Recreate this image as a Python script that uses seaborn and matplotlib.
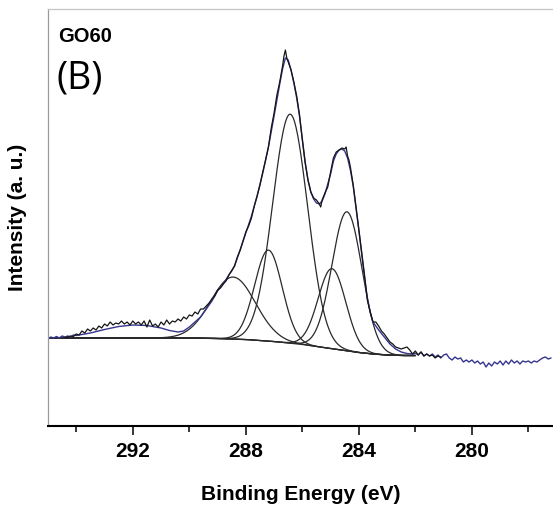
import numpy as np
import pandas as pd
import matplotlib
matplotlib.use("Agg")
import matplotlib.pyplot as plt
import seaborn as sns

# ---------------- data ----------------
# raw C1s spectrum (black), binding energy (eV) and intensity (a.u.)
raw_energy = [294.4, 294.3, 294.2, 294.1, 294.0, 293.9, 293.8, 293.7, 293.6, 293.5,
              293.4, 293.3, 293.2, 293.1, 293.0, 292.9, 292.8, 292.7, 292.6, 292.5,
              292.4, 292.3, 292.2, 292.1, 292.0, 291.9, 291.8, 291.7, 291.6, 291.5,
              291.4, 291.3, 291.2, 291.1, 291.0, 290.9, 290.8, 290.7, 290.6, 290.5,
              290.4, 290.3, 290.2, 290.1, 290.0, 289.9, 289.8, 289.7, 289.6, 289.5,
              289.4, 289.3, 289.2, 289.1, 289.0, 288.9, 288.8, 288.7, 288.6, 288.5,
              288.4, 288.3, 288.2, 288.1, 288.0, 287.9, 287.8, 287.7, 287.6, 287.5,
              287.4, 287.3, 287.2, 287.1, 287.0, 286.9, 286.8, 286.7, 286.65, 286.6,
              286.55, 286.5, 286.4, 286.3, 286.2, 286.1, 286.0, 285.9, 285.8, 285.7,
              285.6, 285.5, 285.4, 285.35, 285.3, 285.2, 285.1, 285.0, 284.9, 284.8,
              284.7, 284.6, 284.5, 284.45, 284.4, 284.35, 284.3, 284.2, 284.1, 284.0,
              283.9, 283.8, 283.7, 283.6, 283.5, 283.4, 283.3, 283.2, 283.1, 283.0,
              282.9, 282.8, 282.7, 282.6, 282.5, 282.4, 282.3, 282.2, 282.1, 282.0,
              281.9, 281.8, 281.7, 281.6, 281.5, 281.4, 281.3, 281.2, 281.1]
raw_intensity = [88.5, 89, 90, 89.5, 92, 91, 95, 93, 97, 95,
                 98, 96, 100, 98, 102, 100, 104, 101, 103, 102,
                 105, 102, 104, 101, 105, 102, 104, 101, 105, 99,
                 106, 100, 102, 99, 104, 101, 106, 102, 105, 104,
                 107, 105, 109, 107, 111, 110, 114, 112, 117, 117,
                 120, 123, 127, 130, 136, 138, 142, 145, 151, 155,
                 160, 169, 176, 185, 194, 200, 208, 220, 230, 241,
                 254, 266, 279, 298, 313, 331, 344, 360, 370, 376,
                 368, 364, 356, 344, 330, 311, 286, 263, 246, 234,
                 228, 226, 222, 219, 226, 233, 239, 254, 268, 274,
                 276, 278, 277, 279, 270, 266, 259, 241, 219, 196,
                 174, 151, 126, 114, 104, 104, 100, 95, 92, 88,
                 84, 82, 79, 78, 77, 78, 79, 76, 72, 75,
                 71, 74, 70, 72, 70, 71, 68, 70, 69]

# fitted envelope / extended spectrum (blue)
fit_energy = [295.0, 294.9, 294.8, 294.7, 294.6, 294.5, 294.4, 294.3, 294.2, 294.1,
              294.0, 293.5, 293.0, 292.5, 292.0, 291.5, 291.0, 290.7, 290.4, 290.2,
              290.0, 289.8, 289.6, 289.4, 289.2, 289.0, 288.8, 288.6, 288.4, 288.2,
              288.0, 287.8, 287.6, 287.4, 287.2, 287.0, 286.8, 286.7, 286.6, 286.5,
              286.4, 286.3, 286.2, 286.1, 286.0, 285.9, 285.8, 285.7, 285.6, 285.5,
              285.4, 285.3, 285.2, 285.0, 284.9, 284.8, 284.7, 284.6, 284.5, 284.4,
              284.3, 284.2, 284.1, 284.0, 283.9, 283.8, 283.7, 283.6, 283.5, 283.3,
              283.1, 282.9, 282.7, 282.5, 282.3, 282.1, 282.0, 281.9, 281.8, 281.7,
              281.6, 281.5, 281.4, 281.3, 281.2, 281.1, 281.0, 280.9, 280.8, 280.7,
              280.6, 280.5, 280.4, 280.3, 280.2, 280.1, 280.0, 279.9, 279.8, 279.7,
              279.6, 279.5, 279.4, 279.3, 279.2, 279.1, 279.0, 278.9, 278.8, 278.7,
              278.6, 278.5, 278.4, 278.3, 278.2, 278.1, 278.0, 277.9, 277.8, 277.7,
              277.6, 277.5, 277.4, 277.3, 277.2]
fit_intensity = [87, 89, 88, 89.5, 88, 90, 89, 90, 89, 91,
                 90.5, 93, 96.5, 99.5, 101, 100.5, 98, 95.5, 94, 95,
                 99, 104, 109, 117, 125, 135, 142, 151, 160, 176,
                 193, 210, 230, 253, 279, 310, 342, 357, 368, 366,
                 356, 343, 328, 310, 287, 264, 246, 234, 227, 223,
                 222, 225, 232, 252, 265, 272, 276, 277, 275, 268,
                 256, 240, 218, 196, 172, 149, 128, 114, 104, 96,
                 89, 82, 77, 74, 72.5, 72, 73, 71, 74, 70,
                 72, 70, 72, 69, 71, 68, 71, 72, 68, 66,
                 69, 67, 68, 64, 66, 64, 66, 63, 65, 62,
                 64, 59, 63, 60, 64, 62, 65, 61, 65, 62,
                 66, 63, 65, 62, 65, 64, 65, 63, 65, 64,
                 66, 68, 69, 67, 68]

# Shirley-type background (black)
bg_energy = [295.0, 290.0, 289.0, 288.0, 287.5, 287.0, 286.5, 286.0, 285.5,
             285.0, 284.5, 284.0, 283.5, 283.0, 282.5, 282.0]
bg_intensity = [88, 88, 87.5, 86.5, 85.5, 84.5, 83, 81.5, 79.5,
                77.5, 75.5, 73.5, 72, 71, 70.5, 70.5]

# fitted component peaks: centre (eV), height above background, FWHM (eV)
peak_centers = [284.42, 284.95, 286.43, 287.20, 288.45]
peak_heights = [139, 80, 229, 91, 62]
peak_fwhm = [1.25, 1.15, 1.45, 1.15, 1.85]

xticks_major = [292, 288, 284, 280]

# ---------------- figure ----------------
sns.set_style("white")
plt.rcParams['font.family'] = ['Liberation Sans', 'DejaVu Sans']
plt.rcParams['text.color'] = 'black'
plt.rcParams['axes.labelcolor'] = 'black'
plt.rcParams['xtick.color'] = 'black'

fig = plt.figure(figsize=(5.53, 5.08), dpi=100)
ax = fig.add_axes([48 / 553, (508 - 426) / 508, 1 - 48 / 553, (426 - 9) / 508])

grid = np.linspace(295.0, 282.0, 700)
bg_grid = np.interp(grid, bg_energy[::-1], bg_intensity[::-1])
comp_rows = []
for i, (c, h, w) in enumerate(zip(peak_centers, peak_heights, peak_fwhm)):
    y = bg_grid + h * np.exp(-4 * np.log(2) * ((grid - c) / w) ** 2)
    comp_rows.append(pd.DataFrame({"energy": grid, "intensity": y, "peak": f"p{i}"}))
comp_df = pd.concat(comp_rows, ignore_index=True)

bg_df = pd.DataFrame({"energy": bg_energy, "intensity": bg_intensity})
fit_df = pd.DataFrame({"energy": fit_energy, "intensity": fit_intensity})
raw_df = pd.DataFrame({"energy": raw_energy, "intensity": raw_intensity})

sns.lineplot(data=bg_df, x="energy", y="intensity", ax=ax, color="#2a2a2a",
             lw=0.9, estimator=None, sort=False)
sns.lineplot(data=comp_df, x="energy", y="intensity", units="peak", ax=ax,
             color="#2a2a2a", lw=0.9, estimator=None, sort=False, legend=False)
sns.lineplot(data=fit_df, x="energy", y="intensity", ax=ax, color="#35358f",
             lw=1.0, estimator=None, sort=False)
sns.lineplot(data=raw_df, x="energy", y="intensity", ax=ax, color="#151515",
             lw=0.9, estimator=None, sort=False)

ax.set_xlim(295.0, 277.13)
ax.set_ylim(0, 417)
ax.set_xticks(xticks_major)
ax.set_xticklabels([str(t) for t in xticks_major], fontsize=15, fontweight="bold")
ax.set_xticks([294, 290, 286, 282, 278], minor=True)
ax.set_yticks([])
ax.tick_params(axis="x", which="major", direction="out", length=6.5, width=1.1,
               color="black", pad=5, bottom=True)
ax.tick_params(axis="x", which="minor", direction="out", length=4, width=1.1,
               color="black", bottom=True)

ax.set_xlabel("Binding Energy (eV)", fontsize=15, fontweight="bold", labelpad=17)
ax.set_ylabel("Intensity (a. u.)", fontsize=15, fontweight="bold", labelpad=15)

ax.spines["bottom"].set_visible(True)
ax.spines["bottom"].set_color("black")
ax.spines["bottom"].set_linewidth(1.5)
ax.spines["left"].set_visible(True)
ax.spines["left"].set_color("#9a9a9a")
ax.spines["left"].set_linewidth(0.9)
ax.spines["top"].set_visible(True)
ax.spines["top"].set_color("#c4c4c4")
ax.spines["top"].set_linewidth(0.9)
ax.spines["right"].set_visible(False)

fig.text(58 / 553, 1 - 36.5 / 508, "GO60", fontsize=14.5, fontweight="bold",
         ha="left", va="center", color="black")
fig.text(56 / 553, 1 - 79 / 508, "(B)", fontsize=27, ha="left", va="center",
         color="black", family=["Open Sans", "DejaVu Sans"])

fig.savefig("out.png", dpi=100)
